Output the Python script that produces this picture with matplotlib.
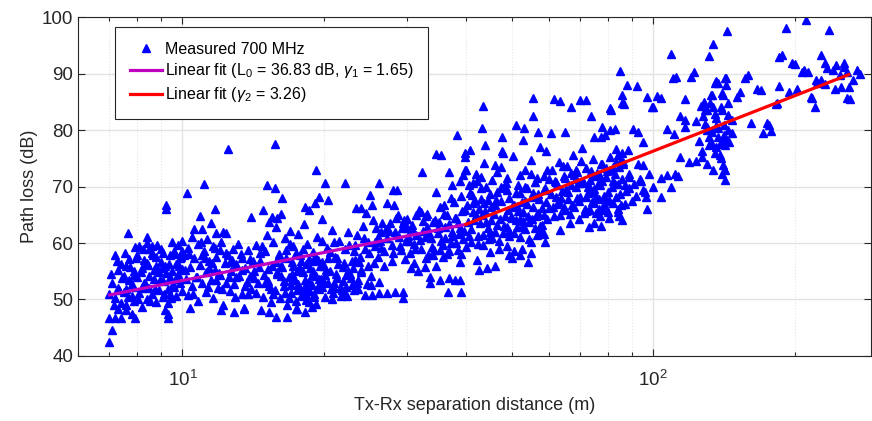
import numpy as np
import matplotlib
matplotlib.use("Agg")
import matplotlib.pyplot as plt
from matplotlib.ticker import LogLocator, NullFormatter

plt.rcParams['font.family'] = ['Liberation Sans', 'DejaVu Sans']
plt.rcParams['mathtext.fontset'] = 'custom'
plt.rcParams['mathtext.rm'] = 'Liberation Sans'
plt.rcParams['mathtext.it'] = 'Liberation Sans:italic'

d_near = [7.0, 7.0, 7.0, 7.1, 7.1, 7.2, 7.2, 7.2, 7.3, 7.3, 7.4, 7.4, 7.4, 7.5, 7.5, 7.6, 7.6, 7.6,
          7.66, 7.7, 7.7, 7.8, 7.8, 7.8, 7.9, 7.9, 7.94, 7.94, 8.0, 8.0, 8.1, 8.1, 8.2, 8.2, 8.3, 8.3,
          8.4, 8.43, 8.43, 8.4, 8.5, 8.5, 8.6, 8.6, 8.6, 8.7, 8.7, 8.8, 8.8, 8.9, 8.9, 9.0, 9.0, 9.1,
          9.1, 9.2, 9.2, 9.25, 9.25, 9.3, 9.3, 9.3, 9.3, 9.4, 9.4, 9.5, 9.5, 9.6, 9.6, 9.7, 9.7, 9.8,
          9.8, 9.9, 9.9, 10.0, 10.0, 10.0,
          7.05, 7.15, 7.25, 7.35, 7.45, 7.55, 7.65, 7.75, 7.85, 7.95, 8.05, 8.15, 8.25, 8.35, 8.45,
          8.55, 8.65, 8.75, 8.85, 8.95, 9.05, 9.15, 9.25, 9.35, 9.45, 9.55, 9.65, 9.75, 9.85, 9.95,
          7.3, 7.6, 7.9, 8.2, 8.5, 8.8, 9.1, 9.4, 9.7, 10.0]
pl_near = [42.5, 51.0, 46.7, 44.6, 53.0, 57.9, 50.2, 46.7, 52.1, 55.2, 49.4, 56.3, 46.7, 54.1, 51.4,
           55.9, 49.0, 48.1, 61.7, 53.4, 57.1, 50.6, 52.7, 47.5, 55.0, 49.8, 59.3, 46.7, 53.9, 57.8,
           51.2, 59.5, 55.6, 48.7, 53.0, 57.0, 50.1, 61.1, 60.0, 56.4, 54.2, 52.0, 58.3, 50.9, 59.4,
           55.3, 53.6, 57.5, 49.5, 54.8, 51.7, 56.7, 59.0, 53.2, 50.4, 55.9, 48.2, 66.7, 66.0, 47.4,
           49.3, 51.8, 46.7, 57.8, 53.9, 60.1, 55.0, 52.3, 58.6, 56.2, 50.6, 54.5, 59.7, 52.9, 57.3,
           55.4, 51.5, 60.4,
           54.5, 49.1, 56.8, 51.6, 53.8, 58.2, 50.5, 55.7, 52.3, 57.4, 50.0, 54.9, 58.9, 52.6, 56.1,
           49.7, 57.8, 51.9, 59.6, 53.4, 55.6, 51.0, 54.7, 56.3, 50.2, 52.8, 58.0, 53.6, 55.9, 57.6,
           48.4, 51.9, 54.4, 52.1, 59.0, 55.9, 58.3, 50.9, 53.7, 58.5]

d_mid = [10.1, 10.2, 10.25, 10.3, 10.3, 10.4, 10.4, 10.5, 10.5, 10.6, 10.6, 10.7, 10.8, 10.8, 10.9,
         10.9, 11.0, 11.0, 11.1, 11.1, 11.2, 11.2, 11.3, 11.4, 11.5, 11.5, 11.6, 11.6, 11.7, 11.7,
         11.8, 11.8, 11.9, 12.0, 12.0, 12.1, 12.1, 12.2, 12.3, 12.4, 12.4, 12.5, 12.5, 12.6, 12.7,
         12.8, 12.9, 12.9, 13.0, 13.2, 13.3, 13.4, 13.5, 13.5, 13.6, 13.7, 13.9, 14.0, 14.0, 14.2,
         14.3, 14.5, 14.6, 14.7, 14.8, 14.8, 14.9,
         15.0, 15.1, 15.1, 15.2, 15.3, 15.3, 15.4, 15.5, 15.5, 15.6, 15.7, 15.7, 15.7, 15.8, 15.8,
         15.9, 15.9, 16.0, 16.1, 16.2, 16.3, 16.3, 16.4, 16.5, 16.6, 16.7, 16.7, 16.8, 16.9, 17.0,
         17.1, 17.2, 17.3, 17.4, 17.5, 17.5, 17.6, 17.7, 17.8, 17.9, 18.0, 18.1, 18.2, 18.2, 18.2,
         18.3, 18.4, 18.5, 18.6, 18.6, 18.7, 18.8, 18.8, 18.9, 19.0, 19.1, 19.2, 19.2, 19.3, 19.4,
         19.5, 19.5, 19.7, 19.8, 19.8, 20.0, 20.1, 20.1, 20.3, 20.4, 20.4, 20.6, 20.8, 20.9, 21.0,
         21.1, 21.3, 21.5, 21.7, 21.9, 22.0, 22.1, 22.1, 22.3, 22.5, 22.7, 22.9, 22.9, 23.1, 23.3,
         23.4, 23.5, 23.6, 23.8, 24.0, 24.0, 24.3, 24.4, 24.6, 24.9, 25.0, 25.2, 25.3, 25.3, 25.5,
         25.8, 26.1, 26.1, 26.2, 26.4, 26.8, 27.2, 27.2]
pl_mid = [57.9, 53.6, 68.9, 59.2, 50.8, 55.7, 48.5, 61.0, 52.4, 57.3, 62.5, 54.0, 59.9, 49.7, 56.1,
          64.8, 52.9, 62.4, 58.6, 70.4, 54.8, 51.3, 60.7, 56.9, 53.5, 63.6, 59.4, 50.2, 55.2, 66.0,
          61.8, 57.6, 52.1, 58.8, 54.3, 60.2, 48.1, 49.1, 56.5, 53.0, 61.8, 57.8, 76.6, 51.5, 55.0,
          59.0, 52.7, 47.8, 56.2, 54.1, 58.1, 50.9, 48.3, 48.5, 55.6, 53.1, 57.2, 51.8, 64.6, 55.1,
          59.6, 52.9, 56.8, 48.1, 50.4, 65.8, 54.4,
          58.6, 61.5, 70.3, 53.2, 63.7, 47.8, 49.6, 56.0, 64.6, 60.2, 51.7, 77.6, 69.7, 62.8, 46.9,
          54.6, 64.4, 58.1, 50.3, 65.1, 55.8, 68.0, 52.4, 60.9, 57.3, 49.0, 46.9, 54.0, 62.1, 51.2,
          56.7, 59.4, 53.5, 48.4, 55.1, 48.3, 61.6, 52.0, 57.9, 50.6, 54.8, 63.4, 51.4, 66.4, 47.8,
          56.3, 59.9, 53.0, 49.5, 65.8, 55.5, 52.6, 48.7, 58.4, 50.9, 67.0, 54.2, 72.9, 61.0, 57.0,
          51.8, 68.1, 53.7, 64.2, 52.2, 56.0, 50.4, 70.6, 59.1, 52.9, 67.6, 55.0, 62.3, 51.1, 52.0,
          57.6, 53.8, 60.4, 50.7, 55.8, 51.3, 58.9, 70.6, 52.3, 61.9, 54.6, 56.9, 52.6, 51.6, 59.7,
          66.2, 52.9, 53.4, 57.5, 55.2, 66.2, 60.9, 50.8, 52.7, 58.3, 68.5, 54.1, 66.7, 50.8, 56.4,
          62.6, 53.1, 70.6, 51.1, 59.2, 55.9, 60.8, 67.0]

# extra samples inside the dense clouds between 10 m and 27 m
d_cloud = [10.15, 10.35, 10.55, 10.75, 10.95, 11.15, 11.35, 11.55, 11.75, 11.95, 12.15, 12.35,
           12.55, 12.75, 12.95, 13.15, 13.35, 13.55, 13.75, 13.95, 14.15, 14.35, 14.55, 14.75,
           14.95, 11.0, 11.4, 11.8, 12.2, 12.6, 13.0, 13.4, 13.8, 14.2, 14.6,
           15.2, 15.6, 16.0, 16.4, 16.8, 17.2, 17.6, 18.0, 18.4, 18.8, 19.2, 19.6, 20.0, 20.4, 20.8,
           21.2, 21.6, 22.0, 22.4, 22.8, 23.2, 23.6, 24.0, 24.4, 24.8, 25.2, 25.6, 26.0, 26.4, 26.8,
           15.4, 15.8, 16.2, 16.6, 17.0, 17.4, 17.8, 18.2, 18.6, 19.0, 19.4, 19.8, 20.2, 20.6, 21.0,
           21.4, 21.8, 22.2, 22.6, 23.0, 17.1, 17.5, 17.9, 18.3, 18.7, 19.1, 19.5, 16.9, 18.1, 18.9,
           23.5, 24.2, 24.8, 25.4, 26.0, 26.6, 27.0, 24.5, 25.7, 26.3,
           15.3, 15.9, 16.5, 17.1, 17.7, 18.3, 18.9, 19.5, 20.1, 20.7, 21.3, 21.9, 22.5, 23.1, 23.7,
           16.2, 17.4, 18.6, 19.8, 21.0]
pl_cloud = [55.2, 58.1, 50.9, 53.9, 60.2, 57.3, 52.2, 56.4, 59.1, 54.7, 51.8, 58.3,
            53.9, 57.0, 50.4, 59.8, 55.3, 52.4, 58.8, 54.1, 56.9, 51.2, 55.8, 59.5,
            53.0, 57.9, 55.6, 53.4, 62.0, 56.6, 54.0, 57.4, 51.0, 53.8, 58.3,
            55.4, 51.0, 57.7, 53.3, 50.2, 56.0, 52.7, 58.9, 51.5, 54.3, 49.2, 55.9, 53.1, 57.3, 50.0,
            54.6, 52.1, 56.5, 50.7, 53.8, 57.0, 51.9, 54.9, 59.0, 56.0, 52.6, 60.1, 57.6, 61.9, 58.6,
            51.8, 56.6, 54.1, 58.8, 52.6, 49.8, 55.4, 53.4, 57.1, 50.5, 52.3, 60.3, 55.2, 58.4, 53.0,
            56.2, 51.7, 54.3, 59.6, 55.5, 54.5, 51.6, 56.8, 49.9, 52.9, 57.5, 53.6, 59.8, 52.0, 55.0,
            61.5, 63.0, 60.2, 64.1, 61.0, 63.6, 62.4, 65.3, 59.4, 60.4,
            52.4, 54.8, 51.1, 53.5, 55.6, 50.8, 56.9, 52.5, 54.4, 51.9, 57.4, 53.2, 55.1, 58.5, 56.7,
            55.9, 58.2, 51.6, 56.7, 60.2]

d_knee = [27.2, 27.6, 28.0, 28.0, 28.3, 28.3, 28.6, 28.7, 29.0, 29.3, 29.4, 29.4, 29.7, 30.0, 30.3,
          30.7, 31.0, 31.4, 31.6, 31.8, 32.1, 32.2, 32.5, 32.7, 32.9, 33.3, 33.6, 33.7, 34.1, 34.5,
          34.6, 34.6, 34.9, 35.2, 35.2, 35.3, 35.4, 35.7, 36.1, 36.5, 36.6, 36.8, 36.9, 36.9, 37.3,
          37.3, 37.7, 37.9, 38.1, 38.2, 38.5, 38.8, 38.8, 38.9, 39.0, 39.3, 39.4, 39.7, 39.8, 39.8,
          39.8, 40.0, 40.1,
          27.4, 27.9, 28.4, 28.9, 29.4, 29.9, 30.4, 30.9, 31.4, 31.9, 32.4, 32.9, 33.4, 33.9, 34.4,
          34.9, 35.4, 35.9, 36.4, 36.9, 37.4, 37.9, 38.4, 38.9, 39.4, 39.9, 28.1, 29.1, 30.1, 31.1,
          32.1, 33.1, 34.1, 35.1, 36.1, 37.1, 38.1, 39.1, 30.6, 33.6,
          27.8, 29.6, 31.2, 32.8, 34.3, 35.8, 37.2, 38.6, 30.0, 33.0, 36.0, 39.0]
pl_knee = [51.1, 63.5, 58.2, 69.4, 61.9, 51.3, 69.4, 65.0, 59.4, 62.7, 50.3, 51.3, 57.1, 64.2, 60.3,
           63.1, 56.4, 61.4, 55.0, 65.8, 59.0, 72.6, 62.2, 55.8, 64.7, 57.8, 54.0, 60.9, 63.8, 55.9,
           69.1, 75.8, 61.7, 53.5, 58.8, 66.4, 75.6, 59.6, 62.9, 64.9, 51.3, 72.6, 53.8, 58.6, 61.2,
           70.3, 67.3, 53.5, 60.0, 79.1, 63.6, 70.9, 53.5, 56.7, 51.3, 65.6, 72.0, 62.1, 75.9, 75.3,
           73.0, 59.3, 72.9,
           62.2, 59.6, 64.4, 61.0, 63.5, 60.4, 58.3, 62.1, 64.9, 60.6, 63.9, 57.4, 61.8, 59.3, 64.0,
           62.7, 60.3, 65.1, 58.0, 63.4, 61.9, 64.4, 58.8, 62.6, 60.7, 65.9, 66.8, 58.7, 61.2, 59.8,
           65.5, 62.9, 57.9, 63.7, 60.8, 67.9, 64.4, 58.1, 55.6, 52.9,
           56.8, 64.0, 58.9, 61.1, 58.8, 57.5, 60.0, 61.6, 62.6, 65.2, 66.8, 68.4]

d_far = [40.3, 40.6, 40.8, 41.0, 41.3, 41.5, 41.5, 41.7, 42.0, 42.2, 42.4, 42.6, 42.7, 43.1, 43.2,
         43.3, 43.4, 43.5, 43.8, 44.0, 44.2, 44.3, 44.6, 45.0, 45.2, 45.4, 45.8, 46.0, 46.2, 46.6,
         47.0, 47.2, 47.4, 47.7, 47.8, 48.0, 48.2, 48.6, 49.0, 49.2, 49.4, 49.4, 49.8, 50.0, 50.3,
         50.7, 51.2, 51.2, 51.4, 51.6, 52.0, 52.1, 52.5, 52.8, 53.0, 53.1, 53.3, 53.5, 54.0, 54.2,
         54.5, 55.0, 55.3, 55.4, 55.5, 55.5, 56.0, 56.5, 56.8, 57.0, 57.3, 57.5, 58.0, 58.5, 58.7,
         59.0, 59.2, 59.5, 60.0, 60.5, 60.5, 61.0, 61.4, 61.5, 62.0, 62.5, 63.0, 63.4, 63.5, 64.0,
         64.5, 65.0, 65.0, 65.5, 66.0, 66.5, 67.0, 67.0, 67.5, 68.0, 68.5, 69.0, 69.5, 69.9, 70.0,
         70.5, 71.0, 71.5, 72.0, 72.0, 72.5, 73.0, 73.0, 73.5, 73.8, 74.0, 74.5, 74.7, 75.0, 75.0,
         75.5, 76.0, 76.5, 77.0, 77.0, 77.4, 77.5, 77.8, 78.0, 78.5, 79.0, 79.0, 79.5, 80.0, 80.3,
         80.5, 81.0, 81.0, 81.0, 81.5, 82.0, 82.9, 83.0, 83.2, 84.0, 84.0, 84.3, 84.9, 85.0, 85.0,
         85.6, 85.6, 86.0, 86.0, 86.2, 86.6, 87.0, 88.0, 88.4, 89.0, 89.0, 90.0, 90.5, 91.0, 92.0,
         92.3, 93.0, 93.0, 93.6, 94.0, 94.9, 95.0, 95.3, 96.0, 96.5, 97.0, 97.0, 98.0, 99.5]
pl_far = [66.8, 70.2, 76.5, 62.4, 68.5, 65.5, 70.6, 64.1, 72.3, 57.0, 59.8, 55.2, 66.0, 69.7, 80.4,
          64.9, 84.2, 61.5, 74.1, 77.4, 63.7, 55.6, 67.6, 58.4, 66.3, 71.2, 65.1, 56.0, 62.0, 69.0,
          60.4, 64.3, 73.5, 78.7, 76.2, 76.0, 63.0, 70.6, 59.5, 65.9, 67.9, 57.9, 64.6, 57.4, 75.4,
          61.8, 68.9, 80.9, 62.9, 65.7, 57.9, 72.0, 58.9, 78.3, 63.9, 80.3, 67.4, 70.0, 66.9, 56.6,
          60.7, 74.7, 64.3, 85.6, 82.5, 68.2, 62.6, 71.5, 79.6, 65.3, 67.8, 77.0, 63.1, 69.4, 71.8,
          60.2, 76.2, 73.0, 66.2, 68.6, 79.5, 72.9, 85.4, 64.7, 70.8, 66.9, 74.4, 85.1, 62.3, 69.2,
          71.9, 65.8, 79.7, 73.7, 67.7, 63.6, 70.3, 84.0, 75.6, 66.4, 69.9, 72.6, 64.2, 85.3, 68.1,
          76.8, 70.9, 66.0, 73.3, 85.3, 68.8, 62.9, 65.8, 71.1, 82.5, 67.2, 74.8, 63.5, 69.6, 78.7,
          65.3, 72.4, 67.8, 70.2, 64.8, 78.8, 63.0, 80.6, 73.9, 68.3, 66.5, 79.1, 71.6, 69.0, 65.5,
          64.4, 72.9, 83.9, 80.0, 83.5, 67.1, 80.1, 70.5, 76.6, 66.0, 75.6, 65.5, 74.4, 68.7, 90.5,
          86.2, 64.1, 71.3, 84.8, 74.4, 84.6, 66.9, 88.0, 76.5, 69.8, 72.2, 67.5, 80.2, 70.4, 68.4,
          87.8, 74.0, 79.6, 71.3, 71.0, 73.8, 69.3, 77.9, 69.1, 68.2, 85.9, 66.1, 72.3, 84.0]

# extra samples inside the dense clouds between 40 m and 145 m
d_bulk = [40.5, 41.0, 41.5, 42.0, 42.5, 43.0, 43.5, 44.0, 44.5, 45.0, 45.5, 46.0, 46.5, 47.0, 47.5,
          48.0, 48.5, 49.0, 49.5, 50.0, 50.5, 51.0, 51.5, 52.0, 52.5, 53.0, 53.5, 54.0, 54.5, 55.0,
          55.5, 56.0, 56.5, 57.0, 57.5, 58.0, 58.5, 59.0, 59.5, 60.0, 40.9, 42.3, 43.7, 45.1, 46.5,
          47.9, 49.3, 50.7, 52.1, 53.5, 54.9, 56.3, 57.7, 59.1, 44.8,
          40.7, 41.8, 42.9, 44.1, 45.3, 46.4, 47.6, 48.8, 50.1, 51.4, 52.7, 54.1, 55.6, 57.1, 58.6,
          43.0, 46.0, 49.0, 52.0, 55.0,
          61.2, 62.4, 63.6, 64.8, 66.0, 67.2, 68.4, 69.6, 70.8, 72.0, 73.2, 74.4, 75.6, 76.8, 78.0,
          79.2, 80.4, 81.6, 82.8, 84.0, 85.2, 86.4, 87.6, 88.8, 61.8, 63.0, 64.2, 65.4, 66.6, 67.8,
          69.0, 70.2, 71.4, 72.6, 73.8, 75.0, 76.2, 77.4, 78.6, 79.8, 81.0, 82.2, 83.4, 84.6, 85.8,
          62.0, 64.5, 67.0, 69.5, 72.0, 74.5, 77.0, 79.5, 82.0, 84.5, 87.0, 63.5, 68.5, 73.5, 78.5,
          83.5,
          125.0, 127.0, 129.0, 131.0, 133.0, 135.0, 137.0, 139.0, 141.0, 128.0, 132.0, 136.0, 140.0,
          144.0, 134.0]
pl_bulk = [63.8, 60.1, 67.1, 65.0, 61.3, 67.8, 59.6, 65.6, 62.7, 68.7, 60.9, 66.7, 63.2, 59.0, 67.4,
           61.7, 64.8, 69.4, 62.2, 66.3, 58.6, 64.1, 70.3, 61.0, 67.2, 65.4, 62.4, 69.7, 63.8, 60.1,
           66.4, 70.8, 61.5, 68.6, 63.0, 66.2, 61.6, 69.8, 64.2, 71.4, 68.9, 71.0, 67.0, 62.0, 72.5,
           69.8, 61.3, 66.8, 64.2, 72.9, 58.2, 64.7, 62.4, 67.3, 60.7,
           61.2, 67.5, 63.5, 70.0, 64.0, 67.6, 69.9, 62.8, 64.5, 66.6, 62.9, 64.7, 68.9, 61.9, 64.9,
           71.6, 73.8, 71.5, 68.8, 72.3,
           66.4, 70.2, 68.0, 71.5, 69.1, 66.8, 73.0, 67.4, 70.6, 68.1, 65.9, 71.8, 68.4, 66.1, 70.9,
           73.3, 67.6, 69.9, 72.2, 70.4, 66.7, 74.0, 69.2, 71.6, 71.0, 67.3, 73.6, 69.5, 65.2, 72.1,
           67.9, 74.6, 65.3, 69.9, 72.7, 67.0, 70.5, 74.0, 65.9, 72.8, 75.2, 70.9, 68.1, 73.4, 75.9,
           68.2, 66.3, 72.4, 70.6, 65.7, 69.1, 71.9, 67.5, 73.5, 64.8, 70.2, 64.9, 71.3, 69.7, 66.9,
           74.4,
           78.0, 76.2, 81.1, 77.3, 79.7, 82.8, 80.4, 75.0, 80.8, 85.0, 84.8, 80.7, 86.5,
           84.8, 73.0]

d_tail = [100.0, 100.0, 102.0, 104.0, 104.0, 104.0, 107.0, 107.0, 109.0, 109.0, 110.0, 110.5, 111.0,
          112.0, 113.0, 114.0, 114.0, 117.0, 117.0, 117.0, 119.0, 120.0, 122.0, 123.0, 123.0, 126.0,
          127.0, 127.5, 128.6, 130.0, 130.0, 130.0, 130.0, 131.0, 131.0, 132.6, 133.0, 133.3, 134.0,
          134.0, 135.0, 135.0, 135.6, 136.0, 136.0, 137.0, 137.0, 138.5, 138.5, 139.1, 139.8, 140.0,
          140.8, 140.8, 141.0, 141.0, 142.0, 142.0, 142.0, 142.0, 142.5, 143.0, 143.0, 143.2, 144.0,
          144.3, 145.0, 146.8, 146.8, 150.3, 152.8, 156.3, 158.6, 161.0, 166.3, 169.0, 171.0, 174.0,
          176.0, 178.0, 182.0, 183.0, 185.0, 185.0, 188.0, 191.0, 194.0, 197.0, 200.0, 202.0, 207.0,
          209.0, 210.7, 213.0, 216.0, 217.0, 220.0, 223.0, 227.0, 231.0, 234.0, 236.0, 241.0, 244.0,
          249.0, 254.0, 254.0, 258.0, 258.0, 262.0, 271.0, 275.0, 265.0, 260.0, 250.0, 243.0, 232.0,
          227.0, 222.0]
pl_tail = [70.0, 84.0, 86.0, 85.6, 71.5, 68.2, 72.0, 80.1, 93.5, 70.0, 89.2, 79.3, 72.3, 89.4, 71.9,
           82.5, 75.2, 85.4, 80.5, 81.8, 74.4, 89.3, 90.3, 81.6, 74.6, 84.2, 75.3, 82.5, 83.5, 83.5,
           80.0, 80.6, 74.0, 93.1, 78.8, 86.2, 86.2, 77.6, 84.1, 95.2, 88.4, 75.9, 82.1, 88.6, 77.0,
           88.4, 78.8, 75.6, 77.6, 84.1, 72.3, 83.5, 86.2, 73.8, 78.2, 79.1, 89.2, 72.9, 71.2, 77.3,
           88.0, 89.2, 78.2, 97.6, 80.0, 82.7, 77.9, 81.8, 79.5, 85.9, 86.8, 89.2, 89.7, 81.2, 87.3,
           87.1, 79.4, 81.3, 80.9, 79.9, 84.6, 84.7, 87.8, 93.0, 93.3, 98.0, 86.8, 91.9, 91.6, 87.2,
           90.3, 90.6, 99.5, 90.3, 85.8, 85.6, 84.1, 88.3, 93.3, 91.9, 90.9, 97.7, 90.6, 91.5, 89.7,
           91.9, 91.2, 85.6, 90.3, 85.4, 90.7, 90.0, 88.8, 87.7, 87.7, 87.2, 88.1, 88.8, 88.8]

# two-slope fit, end points of each segment
fit1_d = [7.0, 40.0]
fit1_pl = [50.8, 63.3]
fit2_d = [40.0, 260.0]
fit2_pl = [63.3, 89.8]

dist = np.concatenate([d_near, d_mid, d_cloud, d_knee, d_far, d_bulk, d_tail])
loss = np.concatenate([pl_near, pl_mid, pl_cloud, pl_knee, pl_far, pl_bulk, pl_tail])

fig = plt.figure(figsize=(8.72, 4.21), dpi=100)
ax = fig.add_axes([0.0894, 0.1544, 0.9095, 0.8052])

ax.plot(dist, loss, '^', color='#0000FF', ms=6.3, mec='#0000FF', ls='none',
        label='Measured 700 MHz')
ax.plot(fit1_d, fit1_pl, color='#BF00BF', lw=2.3,
        label=r'Linear fit (L$_0$ = 36.83 dB, $\gamma_1$ = 1.65)')
ax.plot(fit2_d, fit2_pl, color='#FF0000', lw=2.3,
        label=r'Linear fit ($\gamma_2$ = 3.26)')

ax.set_xscale('log')
ax.set_xlim(6, 290)
ax.set_ylim(40, 100)
ax.set_yticks([40, 50, 60, 70, 80, 90, 100])
ax.xaxis.set_minor_locator(LogLocator(base=10, subs=np.arange(2, 10)))
ax.xaxis.set_minor_formatter(NullFormatter())

ax.grid(True, which='major', color='#e3e3e3', lw=1.0)
ax.grid(True, which='minor', axis='x', color='#e6e6e6', lw=0.8, ls=':')
ax.set_axisbelow(True)

ax.tick_params(which='both', direction='in', top=True, right=True, colors='#262626',
               labelsize=13.5, width=0.8)
ax.tick_params(which='major', length=5)
ax.tick_params(which='minor', length=3)
ax.tick_params(axis='x', which='major', pad=10)
for s in ax.spines.values():
    s.set_color('#262626')
    s.set_linewidth(0.8)

ax.set_xlabel('Tx-Rx separation distance (m)', fontsize=13, color='#262626', labelpad=5)
ax.set_ylabel('Path loss (dB)', fontsize=13, color='#262626', labelpad=2.5)

leg = ax.legend(loc='upper left', bbox_to_anchor=(0.047, 0.970), borderaxespad=0,
                fontsize=11.5, fancybox=False, edgecolor='#262626', framealpha=1,
                handlelength=2.0, borderpad=0.9, labelspacing=0.3, handletextpad=0.2)
leg.get_frame().set_linewidth(0.8)

fig.savefig('out.png', dpi=100)
